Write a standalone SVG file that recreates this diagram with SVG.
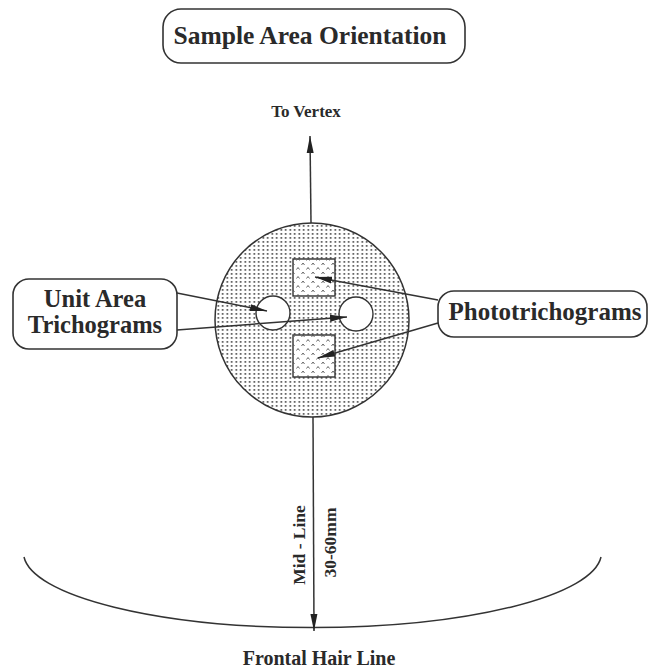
<svg xmlns="http://www.w3.org/2000/svg" width="649" height="670" viewBox="0 0 649 670">
<style>
text{font-family:"Liberation Serif","Times New Roman",serif;font-weight:bold;fill:#2a2a2a;}
.box{fill:#fff;stroke:#333;stroke-width:1.6;}
.ln{stroke:#333;stroke-width:1.5;fill:none;}
</style>
<defs>
<pattern id="dots" x="0" y="0" width="4.5" height="4" patternUnits="userSpaceOnUse">
<rect x="1.5" y="1" width="1.5" height="1.8" fill="#444"/>
</pattern>
<pattern id="chev" x="0" y="0" width="10" height="9" patternUnits="userSpaceOnUse">
<path d="M1.5 4 L3 2 L4.5 4 M6.5 8.5 L8 6.5 L9.5 8.5" stroke="#555" stroke-width="0.9" fill="none"/>
</pattern>
<marker id="ah" markerWidth="18" markerHeight="8" refX="17" refY="4" orient="auto" markerUnits="userSpaceOnUse">
<path d="M0 0.5 L17 4 L0 7.5 Z" fill="#222"/>
</marker>
</defs>

<g id="title">
<rect class="box" x="163" y="9" width="302" height="54" rx="18"/>
<text x="310" y="44" font-size="25.5" text-anchor="middle">Sample Area Orientation</text>
</g>

<g id="to-vertex">
<text x="306" y="117" font-size="17" text-anchor="middle">To Vertex</text>
</g>

<g id="sample-area">
<circle cx="312" cy="320" r="97" fill="#fff" stroke="none"/>
<circle cx="312" cy="320" r="97" fill="url(#dots)" stroke="#333" stroke-width="1.5"/>
<rect x="293" y="259" width="42" height="37" fill="#fff" stroke="#333" stroke-width="1.4"/>
<rect x="293" y="259" width="42" height="37" fill="url(#chev)"/>
<rect x="293" y="335" width="42" height="42" fill="#fff" stroke="#333" stroke-width="1.4"/>
<rect x="293" y="335" width="42" height="42" fill="url(#chev)"/>
<circle cx="273" cy="313" r="17" fill="#fff" stroke="#333" stroke-width="1.4"/>
<circle cx="356" cy="314" r="17" fill="#fff" stroke="#333" stroke-width="1.4"/>
</g>

<g id="unit-area">
<rect class="box" x="13" y="279" width="164" height="70" rx="16"/>
<text x="95" y="307" font-size="24.5" text-anchor="middle">Unit Area</text>
<text x="95" y="333" font-size="24.5" text-anchor="middle">Trichograms</text>
</g>

<g id="phototrichograms">
<rect class="box" x="438" y="291" width="209" height="46" rx="16"/>
<text x="545" y="320" font-size="25" text-anchor="middle">Phototrichograms</text>
</g>

<g id="hairline">
<path class="ln" d="M24 557 A289 75 0 0 0 601 557"/>
<text x="319" y="665" font-size="20" text-anchor="middle">Frontal Hair Line</text>
</g>

<g id="labels">
<text transform="translate(305 545) rotate(-90)" font-size="17.5" text-anchor="middle">Mid - Line</text>
<text transform="translate(336 542.5) rotate(-90)" font-size="17.5" text-anchor="middle">30-60mm</text>
</g>

<g id="connectors">
<line class="ln" x1="311" y1="223" x2="310" y2="136" marker-end="url(#ah)"/>
<line class="ln" x1="313" y1="417" x2="314" y2="631" marker-end="url(#ah)"/>
<line class="ln" x1="177" y1="293" x2="267" y2="311" marker-end="url(#ah)"/>
<line class="ln" x1="177" y1="330" x2="347" y2="317" marker-end="url(#ah)"/>
<line class="ln" x1="438" y1="300" x2="315" y2="277" marker-end="url(#ah)"/>
<line class="ln" x1="438" y1="323" x2="318" y2="358" marker-end="url(#ah)"/>
</g>
</svg>
